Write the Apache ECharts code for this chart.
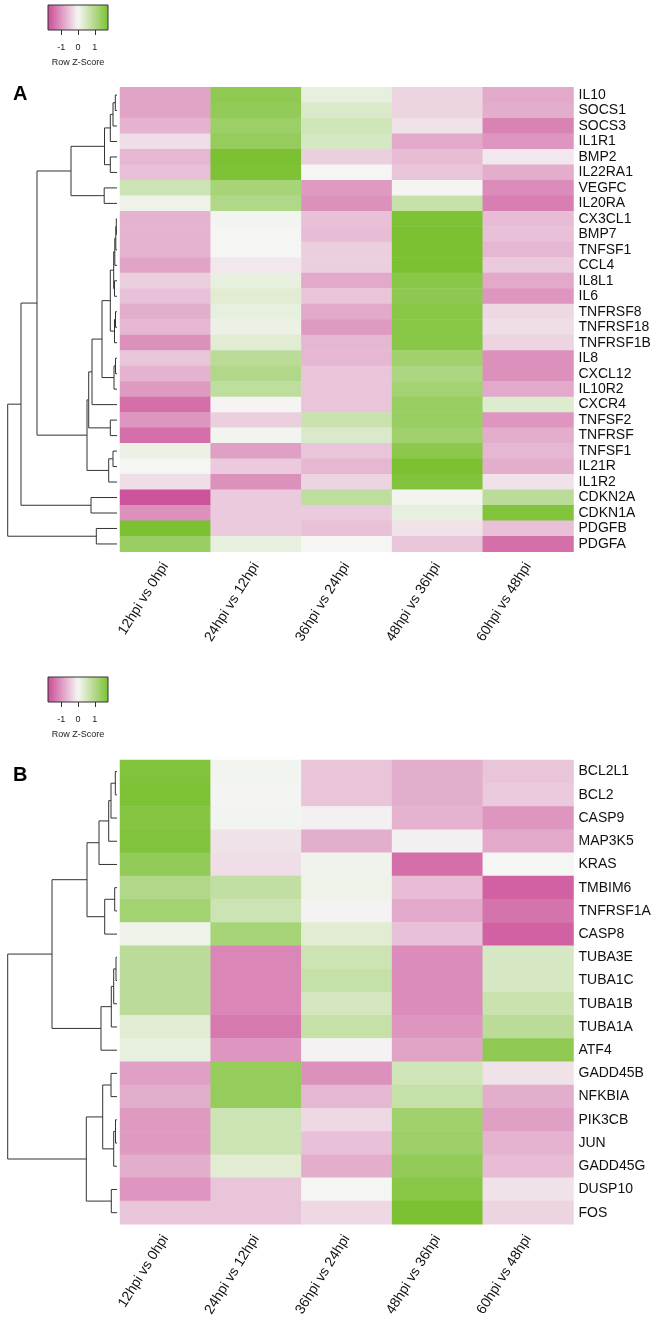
<!DOCTYPE html>
<html>
<head>
<meta charset="utf-8">
<script src="https://cdn.jsdelivr.net/npm/echarts@6/dist/echarts.min.js"></script>
<style>html,body{margin:0;padding:0;background:#fff;}#c{width:661px;height:1328px;}</style>
</head>
<body>
<div id="c"></div>
<script>
// ---------- data ----------
const columns = ['12hpi vs 0hpi', '24hpi vs 12hpi', '36hpi vs 24hpi', '48hpi vs 36hpi', '60hpi vs 48hpi'];

const genesA = ['IL10','SOCS1','SOCS3','IL1R1','BMP2','IL22RA1','VEGFC','IL20RA','CX3CL1','BMP7',
  'TNFSF1','CCL4','IL8L1','IL6','TNFRSF8','TNFRSF18','TNFRSF1B','IL8','CXCL12','IL10R2',
  'CXCR4','TNFSF2','TNFRSF','TNFSF1','IL21R','IL1R2','CDKN2A','CDKN1A','PDGFB','PDGFA'];

const zA = [
  [-0.85, 1.50, 0.20, -0.35, -0.80],
  [-0.85, 1.45, 0.40, -0.35, -0.75],
  [-0.70, 1.30, 0.55, -0.20, -1.20],
  [-0.25, 1.40, 0.45, -0.80, -1.00],
  [-0.65, 1.79, -0.40, -0.60, -0.15],
  [-0.55, 1.75, 0.00, -0.50, -0.75],
  [0.60, 1.15, -0.95, 0.02, -1.10],
  [0.10, 1.00, -1.05, 0.70, -1.25],
  [-0.70, 0.05, -0.55, 1.75, -0.60],
  [-0.70, 0.00, -0.60, 1.79, -0.55],
  [-0.70, 0.00, -0.40, 1.79, -0.65],
  [-0.85, -0.15, -0.40, 1.79, -0.45],
  [-0.40, 0.20, -0.80, 1.60, -0.80],
  [-0.55, 0.30, -0.50, 1.50, -1.00],
  [-0.75, 0.20, -0.80, 1.60, -0.30],
  [-0.65, 0.15, -0.95, 1.60, -0.25],
  [-1.05, 0.30, -0.65, 1.60, -0.35],
  [-0.50, 0.85, -0.65, 1.25, -1.05],
  [-0.70, 1.00, -0.50, 1.05, -1.05],
  [-0.95, 0.80, -0.50, 1.20, -0.80],
  [-1.40, -0.02, -0.50, 1.35, 0.35],
  [-1.00, -0.40, 0.65, 1.35, -1.00],
  [-1.40, 0.05, 0.40, 1.25, -0.75],
  [0.15, -0.90, -0.50, 1.55, -0.65],
  [0.00, -0.45, -0.65, 1.79, -0.75],
  [-0.25, -1.05, -0.35, 1.70, -0.20],
  [-1.70, -0.45, 0.80, 0.05, 0.85],
  [-1.05, -0.45, -0.45, 0.20, 1.70],
  [1.79, -0.45, -0.55, -0.20, -0.55],
  [1.35, 0.20, 0.00, -0.50, -1.40]
];

const genesB = ['BCL2L1','BCL2','CASP9','MAP3K5','KRAS','TMBIM6','TNFRSF1A','CASP8','TUBA3E','TUBA1C',
  'TUBA1B','TUBA1A','ATF4','GADD45B','NFKBIA','PIK3CB','JUN','GADD45G','DUSP10','FOS'];

const zB = [
  [1.70, 0.05, -0.50, -0.75, -0.50],
  [1.75, 0.02, -0.50, -0.75, -0.45],
  [1.65, 0.05, -0.05, -0.70, -1.00],
  [1.70, -0.20, -0.75, -0.05, -0.80],
  [1.45, -0.25, 0.08, -1.40, 0.00],
  [1.00, 0.75, 0.10, -0.60, -1.55],
  [1.20, 0.60, -0.03, -0.80, -1.35],
  [0.10, 1.15, 0.30, -0.55, -1.55],
  [0.85, -1.15, 0.60, -1.10, 0.45],
  [0.85, -1.15, 0.70, -1.10, 0.45],
  [0.85, -1.15, 0.50, -1.10, 0.65],
  [0.30, -1.30, 0.70, -1.00, 0.85],
  [0.20, -1.00, -0.03, -0.85, 1.50],
  [-0.90, 1.40, -1.05, 0.55, -0.20],
  [-0.75, 1.40, -0.65, 0.70, -0.75],
  [-0.95, 0.60, -0.30, 1.25, -0.90],
  [-0.95, 0.60, -0.55, 1.30, -0.70],
  [-0.75, 0.30, -0.75, 1.45, -0.60],
  [-1.00, -0.50, 0.00, 1.60, -0.20],
  [-0.50, -0.50, -0.30, 1.79, -0.35]
];

// dendrograms: [height, left, right]; leaves are row indices
const treeA = [109.3,
  [96,
    [80,
      [46,
        [12.5, [6.7, [4, [1.7, 0, 1], 2], 3], [6.7, 4, 5]],
        [12.8, 6, 7]],
      [30,
        [28.3,
          [25,
            [15,
              [6.7,
                [3.3, [2.2, [1.2, [0.7, 8, 9], 10], 11], [2.5, 12, 13]],
                [2.5, [1.5, 14, 15], 16]],
              [3, [1.5, 17, 18], 19]],
            20],
          [6.7, 21, 22]],
        [8.3, [4, 23, 24], 25]]],
    [26, 26, 27]],
  [20.7, 28, 29]];

const treeB = [109.3,
  [65,
    [30,
      [18, [8.3, [6, [1.7, 0, 1], 2], 3], 4],
      [12.3, [2.3, 5, 6], 7]],
    [16, [5.7, [3.3, [1, 8, 9], 10], 11], 12]],
  [30.7,
    [14.3, [6, 13, 14], [3.3, [1.5, 15, 16], 17]],
    [5.7, 18, 19]]];

const zRange = [-1.79, 1.79];
const keyTicks = [-1, 0, 1];
const zColors = ['#CB4A95', '#F5F5F4', '#7BC132'];

// ---------- helpers ----------
function heatData(z) {
  const out = [];
  z.forEach((row, r) => row.forEach((v, c) => out.push([c, r, v])));
  return out;
}
function dendroSegments(tree) {
  const segs = [];
  function walk(n) {
    if (typeof n === 'number') return { y: n, h: 0 };
    const a = walk(n[1]), b = walk(n[2]);
    segs.push({ coords: [[a.h, a.y], [n[0], a.y], [n[0], b.y], [b.h, b.y]] });
    return { y: (a.y + b.y) / 2, h: n[0] };
  }
  walk(tree);
  return segs;
}

const FONT = 'Liberation Sans, Arial, Helvetica, sans-serif';
const chart = echarts.init(document.getElementById('c'), null, { renderer: 'canvas' });

const panels = [
  { genes: genesA, z: zA, tree: treeA, keyTop: 5, top: 87.3, height: 464.4, letter: 'A', letterTop: 79, letterSize: 20 },
  { genes: genesB, z: zB, tree: treeB, keyTop: 677, top: 760, height: 464.3, letter: 'B', letterTop: 760, letterSize: 20 }
];

const grid = [], xAxis = [], yAxis = [], series = [], title = [];
const heatSeriesIdx = [];
panels.forEach((p, k) => {
  const g0 = grid.length;
  // color key
  grid.push({ left: 48, top: p.keyTop, width: 60, height: 25 });
  // dendrogram
  grid.push({ left: 7, top: p.top, width: 110, height: p.height });
  // heatmap
  grid.push({ left: 120, top: p.top, width: 453.5, height: p.height });

  xAxis.push({
    gridIndex: g0, type: 'value', min: zRange[0], max: zRange[1],
    axisLine: { show: false }, splitLine: { show: false },
    axisTick: { show: true, length: 5, customValues: keyTicks, lineStyle: { color: '#333', width: 1 } },
    axisLabel: { customValues: keyTicks, fontSize: 9, color: '#222', margin: 13, fontFamily: FONT },
    name: 'Row Z-Score', nameLocation: 'middle', nameGap: 28,
    nameTextStyle: { fontSize: 9, color: '#222', fontFamily: FONT }
  });
  yAxis.push({ gridIndex: g0, type: 'value', min: 0, max: 1, show: false });

  xAxis.push({ gridIndex: g0 + 1, type: 'value', min: 0, max: 110, inverse: true, show: false });
  yAxis.push({ gridIndex: g0 + 1, type: 'value', min: -0.5, max: p.genes.length - 0.5, inverse: true, show: false });

  xAxis.push({
    gridIndex: g0 + 2, type: 'category', data: columns, position: 'bottom',
    axisLine: { show: false }, axisTick: { show: false }, splitLine: { show: false },
    axisLabel: { interval: 0, rotate: 58, fontSize: 14, color: '#111', margin: 12, fontFamily: FONT }
  });
  yAxis.push({
    gridIndex: g0 + 2, type: 'category', data: p.genes.map((g, i) => String(i)), inverse: true, position: 'right',
    axisLine: { show: false }, axisTick: { show: false }, splitLine: { show: false },
    axisLabel: { interval: 0, fontSize: 14, color: '#111', margin: 5, fontFamily: FONT,
      formatter: (v, i) => p.genes[i] }
  });

  series.push({
    type: 'custom', xAxisIndex: g0, yAxisIndex: g0, silent: true,
    data: [[zRange[0], zRange[1], 0, 1]], encode: { x: [0, 1], y: [2, 3] },
    renderItem: (params, api) => {
      const a = api.coord([api.value(0), api.value(3)]);
      const b = api.coord([api.value(1), api.value(2)]);
      return {
        type: 'rect',
        shape: { x: a[0], y: a[1], width: b[0] - a[0], height: b[1] - a[1] },
        style: {
          fill: new echarts.graphic.LinearGradient(0, 0, 1, 0,
            zColors.map((c, i) => ({ offset: i / (zColors.length - 1), color: c }))),
          stroke: '#333', lineWidth: 1
        }
      };
    }
  });
  series.push({
    type: 'lines', coordinateSystem: 'cartesian2d', xAxisIndex: g0 + 1, yAxisIndex: g0 + 1,
    polyline: true, silent: true, data: dendroSegments(p.tree),
    lineStyle: { color: '#333', width: 1, opacity: 1 }
  });
  heatSeriesIdx.push(series.length);
  series.push({
    type: 'heatmap', xAxisIndex: g0 + 2, yAxisIndex: g0 + 2, silent: true,
    data: heatData(p.z), itemStyle: { borderWidth: 0 }
  });

  title.push({ text: p.letter, left: 8, top: p.letterTop,
    textStyle: { fontSize: p.letterSize, fontWeight: 'bold', color: '#000', fontFamily: FONT } });
});

chart.setOption({
  backgroundColor: '#fff',
  animation: false,
  title, grid, xAxis, yAxis, series,
  visualMap: {
    show: false, type: 'continuous', min: zRange[0], max: zRange[1],
    seriesIndex: heatSeriesIdx, inRange: { color: zColors }
  }
});
</script>
</body>
</html>
